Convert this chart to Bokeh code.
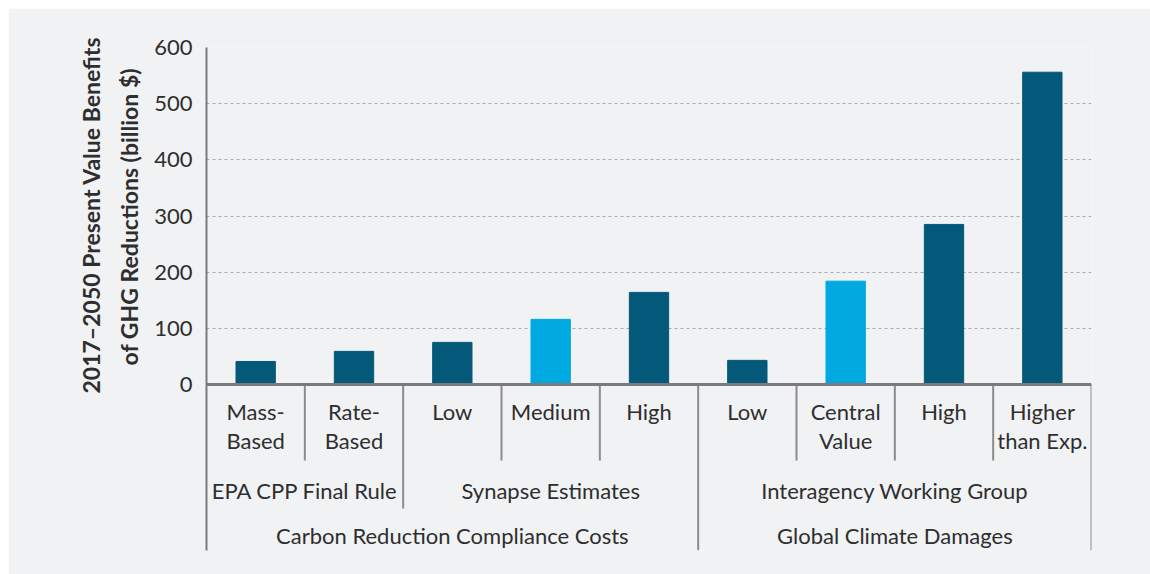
import numpy as np
from bokeh.plotting import figure
from bokeh.models import Range1d, FixedTicker, Span, Title
from bokeh.core.properties import value
from bokeh.embed import file_html
from bokeh.resources import INLINE

# ---- data ----
categories = ["Mass-\nBased", "Rate-\nBased", "Low", "Medium", "High",
              "Low", "Central\nValue", "High", "Higher\nthan Exp."]
groups = ["EPA CPP Final Rule", "EPA CPP Final Rule",
          "Synapse Estimates", "Synapse Estimates", "Synapse Estimates",
          "Interagency Working Group", "Interagency Working Group",
          "Interagency Working Group", "Interagency Working Group"]
supergroups = ["Carbon Reduction Compliance Costs"] * 5 + ["Global Climate Damages"] * 4
values = [41, 59, 75, 116, 164, 43, 184, 285, 556]
y_ticks = [0, 100, 200, 300, 400, 500, 600]
y_label_lines = ["2017\u20132050 Present Value Benefits", "of GHG Reductions (billion $)"]

# ---- style ----
BG = "#f1f2f4"
DARK = "#04597a"
LIGHT = "#00a9e0"
TXT = "#2e2e2e"
FONT = "Lato"
highlight = {"Medium", "Central\nValue"}
colors = [LIGHT if c in highlight else DARK for c in categories]

n = len(categories)
W, H = 1142, 566
LEFT, RIGHT, TOP, BOTTOM = 198, 59, 39, 24
VAL_PX = 337          # pixels used by the 0..600 value span
frame_h = H - TOP - BOTTOM
ymax = max(y_ticks)
upp = ymax / VAL_PX   # data units per pixel
ymin = -(frame_h - VAL_PX) * upp

p = figure(width=W, height=H, x_range=Range1d(0, n), y_range=Range1d(ymin, ymax),
           output_backend="svg", toolbar_location=None,
           min_border_left=LEFT, min_border_right=RIGHT,
           min_border_top=TOP, min_border_bottom=BOTTOM)
p.margin = (8, 0, 0, 8)
p.background_fill_color = BG
p.border_fill_color = BG
p.outline_line_color = None

idx = np.arange(n)
p.vbar(x=idx + 0.5, top=values, width=0.4, bottom=0, color=colors)

p.xaxis.visible = False
p.xgrid.visible = False
p.ygrid.grid_line_color = "#a8a8a8"
p.ygrid.grid_line_dash = "3 3"
p.ygrid.grid_line_width = 1
p.yaxis.ticker = FixedTicker(ticks=y_ticks)
p.yaxis.minor_tick_line_color = None
p.yaxis.major_tick_line_color = None
p.yaxis.major_tick_out = 0
p.yaxis.major_tick_in = 0
p.yaxis.axis_line_color = "#7a7a7a"
p.yaxis.axis_line_width = 2
p.yaxis.major_label_text_font = FONT
p.yaxis.major_label_text_font_size = "22px"
p.yaxis.major_label_text_color = TXT
p.yaxis.major_label_standoff = 14
p.add_layout(Span(location=0, dimension="width", line_color="#7a7a7a", line_width=3))

# y-axis title, centred on the 0..600 value span (not the whole frame)
label_px = [355, 299]           # rendered lengths of the two title lines
centre_from_bottom = frame_h - VAL_PX / 2
for line, length, so in reversed(list(zip(y_label_lines, label_px, [-2, 18]))):
    p.add_layout(Title(text=line, align="left", offset=centre_from_bottom - length / 2,
                       text_font=FONT, text_font_style="bold", text_font_size="23px",
                       text_color=TXT, standoff=so), "left")

# ---- hierarchical category axis ----
D1, D2, D3 = 76, 124, 166
sx, sy = [], []
for b in range(1, n + 1):
    if b == n or supergroups[b] != supergroups[b - 1]:
        d = D3
    elif groups[b] != groups[b - 1]:
        d = D2
    else:
        d = D1
    sx.append(b)
    sy.append(-d * upp)
p.segment(x0=sx, y0=[0] * len(sx), x1=sx, y1=sy, line_color="#8c8c8c", line_width=2)

p.text(x=idx + 0.5, y=[-13 * upp] * n, text=categories, text_align="center",
       text_baseline="top", text_font=value(FONT), text_font_size="22px",
       text_color=TXT, text_line_height=1.1)


def spans(labels):
    out = []
    start = 0
    for i in range(1, n + 1):
        if i == n or labels[i] != labels[start]:
            out.append((labels[start], (start + i) / 2))
            start = i
    return out


g = spans(groups)
p.text(x=[c for _, c in g], y=[-106 * upp] * len(g), text=[t for t, _ in g],
       text_align="center", text_baseline="middle", text_font=value(FONT),
       text_font_size="22px", text_color=TXT)
sg = spans(supergroups)
p.text(x=[c for _, c in sg], y=[-151 * upp] * len(sg), text=[t for t, _ in sg],
       text_align="center", text_baseline="middle", text_font=value(FONT),
       text_font_size="22px", text_color=TXT)

open("out.html", "w").write(file_html(p, INLINE))
